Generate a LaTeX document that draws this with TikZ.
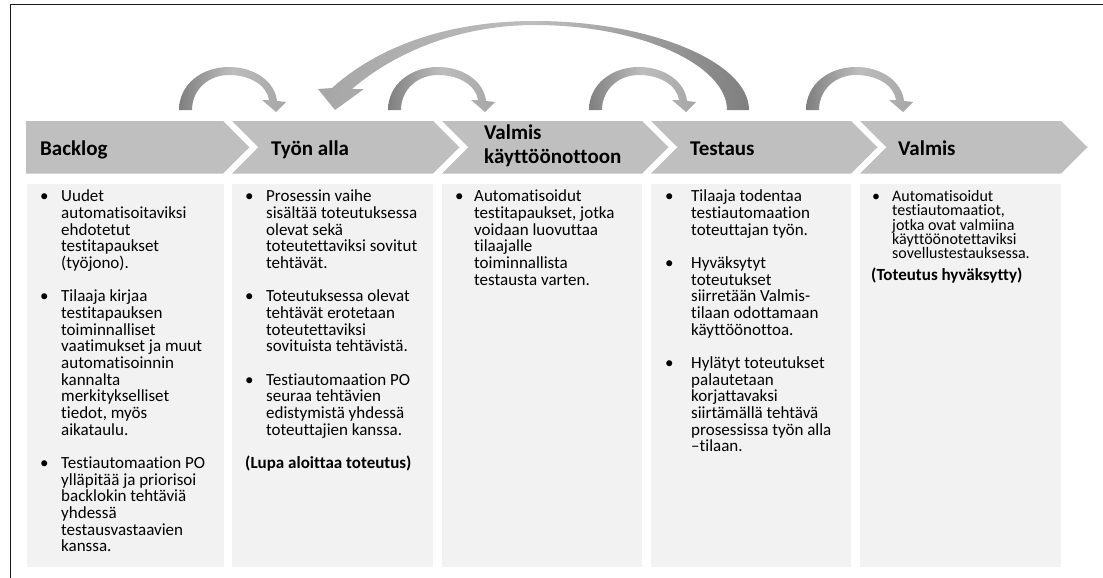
\documentclass[tikz,border=0pt]{standalone}
\usepackage{fontspec}
\setmainfont{Carlito}[Ligatures={NoCommon}]
\usetikzlibrary{calc}

\definecolor{bandgray}{HTML}{BFBFBF}
\definecolor{boxgray}{HTML}{F2F2F2}
\definecolor{arrdark}{HTML}{7F7F7F}
\definecolor{arrmid}{HTML}{A6A6A6}
\definecolor{arrlight}{HTML}{BDBDBD}
\definecolor{framecol}{HTML}{1A1A1A}

% horizontal shadings for the curved arrows (25bp..75bp spans the path)
\pgfdeclarehorizontalshading{hopshade}{100bp}{color(0bp)=(arrdark); color(25bp)=(arrdark); color(50bp)=(arrlight); color(75bp)=(arrmid); color(100bp)=(arrmid)}
\pgfdeclarehorizontalshading{backshade}{100bp}{color(0bp)=(arrmid); color(25bp)=(arrmid); color(50bp)=(arrlight); color(75bp)=(arrdark); color(100bp)=(arrdark)}

% one line of body text per entry, starting at a given baseline
\newcommand\txtlines[6][bodytext]{%
  \foreach [count=\i from 0] \t in {#6}
    \node[#1] (#2-\i) at (#3,{#4+\i*#5}) {\t};}

% small curved arrow hopping from one stage to the next
\newcommand\hoparrow[2]{%
  \begin{scope}[shift={(#2,110)}]
    \path[shading=hopshade] (-50,0) .. controls (-50,-25) and (-28,-43) .. (0,-43)
      .. controls (26,-43) and (46,-28) .. (48,-9) -- (57,-8) -- (47,2) -- (33,-10) -- (40,-10)
      .. controls (38,-24) and (22,-35) .. (0,-35)
      .. controls (-21,-35) and (-37,-20) .. (-37,0) -- cycle;
    \coordinate (#1) at (0,-43);
  \end{scope}}

\begin{document}
\begin{tikzpicture}[x=1pt,y=-1pt,
  heading/.style={font=\fontsize{21}{23}\selectfont\bfseries, inner sep=0pt, anchor=base west},
  bodytext/.style={font=\fontsize{17}{17}\selectfont, inner sep=0pt, anchor=base west},
  smalltext/.style={font=\fontsize{16}{16}\selectfont, inner sep=0pt, anchor=base west},
  boldtext/.style={font=\fontsize{17}{17}\selectfont\bfseries, inner sep=0pt, anchor=base west},
  contentbox/.style={fill=boxgray, draw=none, inner sep=0pt, anchor=north west}]
\useasboundingbox (0,0) rectangle (1103,578);

% frame lines
\coordinate (frTL) at (10.5,4.5);
\coordinate (frTR) at (1103,4.5);
\coordinate (frBL) at (10.5,578);
\draw[line width=1.5pt, framecol] (frTR) -- (frTL) -- (frBL);

% stage chevrons
\fill[bandgray] (26,121) -- (223,121) -- (249.5,147.25) -- (223,173.5) -- (26,173.5) -- cycle;
\foreach \L/\R in {232/433, 442/642, 651/851, 860/1061}
  \fill[bandgray] (\L,121) -- (\R,121) -- ({\R+26.5},147.25) -- (\R,173.5) -- (\L,173.5) -- ({\L+26.5},147.25) -- cycle;

% stage titles
\node[heading] (h1) at (40,155) {Backlog};
\node[heading] (h2) at (271,155) {Työn alla};
\node[heading] (h3a) at (484,139) {Valmis};
\node[heading] (h3b) at (484,163) {käyttöönottoon};
\node[heading] (h4) at (690,155) {Testaus};
\node[heading] (h5) at (898,155) {Valmis};

% content boxes
\node[contentbox, minimum width=197pt, minimum height=383pt] (box1) at (27,184) {};
\node[contentbox, minimum width=201pt, minimum height=383pt] (box2) at (232,184) {};
\node[contentbox, minimum width=200pt, minimum height=383pt] (box3) at (442,184) {};
\node[contentbox, minimum width=200pt, minimum height=383pt] (box4) at (651,184) {};
\node[contentbox, minimum width=201pt, minimum height=383pt] (box5) at (860,184) {};

% Backlog
\node[bodytext] (b1a) at (40,201.7) {•};
\txtlines{t1a}{61}{201.7}{16.67}{Uudet, automatisoitaviksi, ehdotetut, testitapaukset, (työjono).}
\node[bodytext] (b1b) at (40,301.7) {•};
\txtlines{t1b}{61}{301.7}{16.67}{Tilaaja kirjaa, testitapauksen, toiminnalliset, vaatimukset ja muut, automatisoinnin, kannalta, merkitykselliset, {tiedot, myös}, aikataulu.}
\node[bodytext] (b1c) at (40,468.4) {•};
\txtlines{t1c}{61}{468.4}{16.67}{Testiautomaation PO, ylläpitää ja priorisoi, backlokin tehtäviä, yhdessä, testausvastaavien, kanssa.}

% Työn alla
\node[bodytext] (b2a) at (245,201.7) {•};
\txtlines{t2a}{266}{201.7}{16.67}{Prosessin vaihe, sisältää toteutuksessa, olevat sekä, toteutettaviksi sovitut, tehtävät.}
\node[bodytext] (b2b) at (245,301.7) {•};
\txtlines{t2b}{266}{301.7}{16.67}{Toteutuksessa olevat, tehtävät erotetaan, toteutettaviksi, sovituista tehtävistä.}
\node[bodytext] (b2c) at (245,385.05) {•};
\txtlines{t2c}{266}{385.05}{16.67}{Testiautomaation PO, seuraa tehtävien, edistymistä yhdessä, toteuttajien kanssa.}
\node[boldtext] (t2d) at (245,468.4) {(Lupa aloittaa toteutus)};

% Valmis käyttöönottoon
\node[bodytext] (b3a) at (455,201.7) {•};
\txtlines{t3a}{474}{201.7}{16.67}{Automatisoidut, {testitapaukset, jotka}, voidaan luovuttaa, tilaajalle, toiminnallista, testausta varten.}

% Testaus
\node[bodytext] (b4a) at (665,201.7) {•};
\txtlines{t4a}{691}{201.7}{16.67}{Tilaaja todentaa, testiautomaation, toteuttajan työn.}
\node[bodytext] (b4b) at (665,268.4) {•};
\txtlines{t4b}{691}{268.4}{16.67}{Hyväksytyt, toteutukset, siirretään Valmis-, tilaan odottamaan, käyttöönottoa.}
\node[bodytext] (b4c) at (665,368.4) {•};
\txtlines{t4c}{691}{368.4}{16.67}{Hylätyt toteutukset, palautetaan, korjattavaksi, siirtämällä tehtävä, prosessissa työn alla, –tilaan.}

% Valmis
\node[smalltext] (b5a) at (872,201.7) {•};
\txtlines[smalltext]{t5a}{892}{201.7}{14.2}{Automatisoidut, {testiautomaatiot,}, jotka ovat valmiina, käyttöönotettaviksi, sovellustestauksessa.}
\node[boldtext] (t5b) at (871,280) {(Toteutus hyväksytty)};

% forward hops between stages
\hoparrow{hopA}{229}
\hoparrow{hopB}{438}
\hoparrow{hopC}{639}
\hoparrow{hopD}{856}

% long arrow back from Testaus to Työn alla
\path[shading=backshade] (749,110) .. controls (749,62) and (650,21) .. (535,21)
  .. controls (450,21) and (380,45) .. (332,88) -- (318,89) -- (335,110) -- (364,89) -- (352,89)
  .. controls (395,52) and (460,25) .. (535,25)
  .. controls (640,25) and (727,65) .. (727,110) -- cycle;
\coordinate (backTop) at (535,21);
\end{tikzpicture}
\end{document}
